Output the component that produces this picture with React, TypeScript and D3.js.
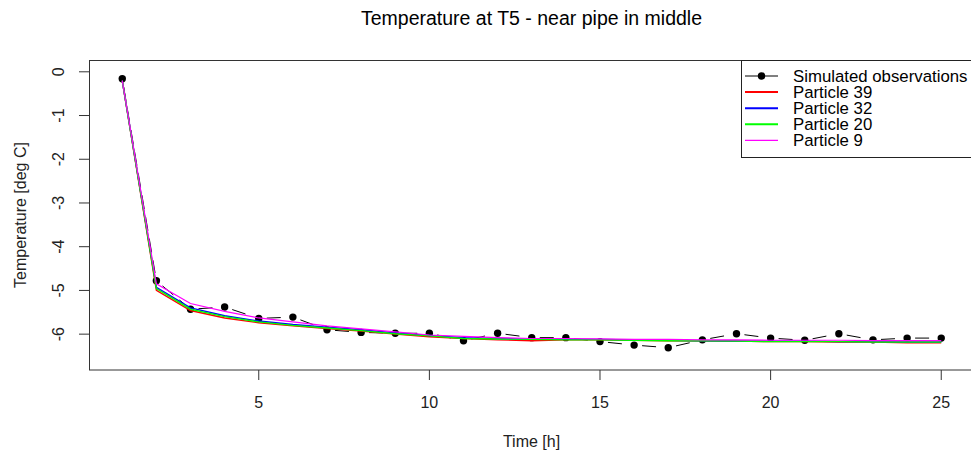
import React from "react";
import * as d3 from "d3";

const times = [1,2,3,4,5,6,7,8,9,10,11,12,13,14,15,16,17,18,19,20,21,22,23,24,25];
const observed = [-0.16,-4.78,-5.43,-5.38,-5.64,-5.61,-5.9,-5.96,-5.98,-5.98,-6.15,-5.98,-6.08,-6.08,-6.17,-6.25,-6.31,-6.13,-5.99,-6.09,-6.14,-5.99,-6.13,-6.09,-6.09];
const particle39 = [-0.2,-5.0,-5.46,-5.63,-5.74,-5.81,-5.87,-5.93,-6.0,-6.06,-6.1,-6.13,-6.15,-6.13,-6.13,-6.14,-6.15,-6.15,-6.16,-6.17,-6.17,-6.18,-6.18,-6.2,-6.2];
const particle32 = [-0.2,-4.93,-5.4,-5.58,-5.7,-5.78,-5.84,-5.9,-5.97,-6.03,-6.08,-6.1,-6.12,-6.12,-6.12,-6.13,-6.14,-6.15,-6.16,-6.16,-6.16,-6.17,-6.17,-6.18,-6.18];
const particle20 = [-0.2,-4.96,-5.43,-5.6,-5.72,-5.8,-5.86,-5.92,-5.99,-6.04,-6.1,-6.11,-6.12,-6.13,-6.13,-6.14,-6.15,-6.15,-6.16,-6.17,-6.17,-6.17,-6.18,-6.18,-6.18];
const particle9 = [-0.2,-4.85,-5.3,-5.48,-5.63,-5.72,-5.81,-5.88,-5.95,-6.02,-6.05,-6.08,-6.1,-6.1,-6.11,-6.12,-6.12,-6.13,-6.13,-6.14,-6.14,-6.14,-6.15,-6.15,-6.15];
const xTicks = [5,10,15,20,25];
const yTicks = [0,-1,-2,-3,-4,-5,-6];
const seriesNames = ["Particle 39","Particle 32","Particle 20","Particle 9"];
const seriesColors = ["#FF0000","#0000FF","#00FF00","#FF00FF"];
const seriesValues = [particle39, particle32, particle20, particle9];

const W = 971, H = 459;
const FONT = "Liberation Sans, Arial, sans-serif";

export default function App() {
  const x = d3.scaleLinear().domain([0.04, 25.96]).range([89.5, 974]);
  const y = d3.scaleLinear().domain([-6.82, 0.27]).range([370, 60]);
  const line = d3.line<[number, number]>().x(d => x(d[0])).y(d => y(d[1]));

  const obsPts = times.map((t, i) => [x(t), y(observed[i])] as [number, number]);
  const gap = 8;
  const segs = obsPts.slice(0, -1).map((p, i) => {
    const q = obsPts[i + 1];
    const dx = q[0] - p[0], dy = q[1] - p[1];
    const L = Math.hypot(dx, dy);
    const ux = dx / L, uy = dy / L;
    return { x1: p[0] + ux * gap, y1: p[1] + uy * gap, x2: q[0] - ux * gap, y2: q[1] - uy * gap };
  });

  const legX = 741, legTop = 60;
  const rowY = (i: number) => 76 + i * 16.1;

  return (
    <svg width={W} height={H} style={{ position: "absolute", left: 0, top: 0, background: "#fff" }} fontFamily={FONT}>
      <rect x={0} y={0} width={W} height={H} fill="#fff" />
      <text x={531.5} y={25} textAnchor="middle" fontSize={19.5} fill="#000">Temperature at T5 - near pipe in middle</text>

      {/* observations */}
      {segs.map((s, i) => (
        <line key={i} x1={s.x1} y1={s.y1} x2={s.x2} y2={s.y2} stroke="#000" strokeWidth={1} strokeDasharray="14 8" />
      ))}
      {obsPts.map((p, i) => (
        <circle key={i} cx={p[0]} cy={p[1]} r={3.7} fill="#000" />
      ))}

      {/* particles */}
      {seriesValues.map((vals, k) => (
        <path key={k} d={line(times.map((t, i) => [t, vals[i]] as [number, number])) || ""} fill="none" stroke={seriesColors[k]} strokeWidth={k === 3 ? 1.2 : 1.4} />
      ))}

      {/* box */}
      <rect x={89.5} y={60.5} width={890} height={309.5} fill="none" stroke="#333" strokeWidth={1} />

      {/* x axis */}
      {xTicks.map(t => (
        <g key={t}>
          <line x1={x(t)} x2={x(t)} y1={370} y2={380} stroke="#333" />
          <text x={x(t)} y={408} textAnchor="middle" fontSize={16} fill="#222">{t}</text>
        </g>
      ))}
      <text x={531.5} y={447} textAnchor="middle" fontSize={16} fill="#222">Time [h]</text>

      {/* y axis */}
      {yTicks.map(t => (
        <g key={t}>
          <line x1={79} x2={89.5} y1={y(t)} y2={y(t)} stroke="#333" />
          <text transform={`translate(64,${y(t)}) rotate(-90)`} textAnchor="middle" fontSize={16} fill="#222">{t}</text>
        </g>
      ))}
      <text transform={`translate(26,215) rotate(-90)`} textAnchor="middle" fontSize={16} fill="#222">Temperature [deg C]</text>

      {/* legend */}
      <rect x={legX + 0.5} y={legTop + 0.5} width={260} height={97} fill="#fff" stroke="#222" strokeWidth={1} />
      <line x1={745} x2={778} y1={rowY(0)} y2={rowY(0)} stroke="#000" />
      <circle cx={761.5} cy={rowY(0)} r={3.7} fill="#000" />
      <text x={793} y={rowY(0) + 6} fontSize={16.8} fill="#000">Simulated observations</text>
      {seriesNames.map((n, k) => (
        <g key={n}>
          <line x1={745} x2={778} y1={rowY(k + 1)} y2={rowY(k + 1)} stroke={seriesColors[k]} strokeWidth={k === 3 ? 1.2 : 2} />
          <text x={793} y={rowY(k + 1) + 6} fontSize={16.8} fill="#000">{n}</text>
        </g>
      ))}
    </svg>
  );
}
